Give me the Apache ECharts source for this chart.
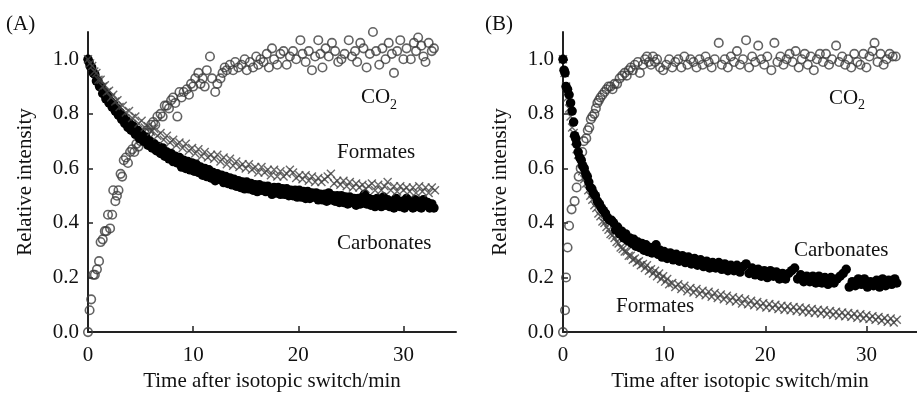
<!DOCTYPE html>
<html>
<head>
<meta charset="utf-8">
<script src="https://cdn.jsdelivr.net/npm/echarts@6/dist/echarts.min.js"></script>
<style>
  html, body { margin: 0; padding: 0; background: #fff; }
  #chart { width: 917px; height: 397px; }
</style>
</head>
<body>
<div id="chart"></div>
<script>
// ticks
var xTicks = [0, 10, 20, 30];
var yTicks = [0, 0.2, 0.4, 0.6, 0.8, 1.0];

// panel (A) — [time/min, relative intensity]
var co2A = [[0,0.0],[0.15,0.08],[0.3,0.12],[0.5,0.21],[0.65,0.21],[0.85,0.23],[1.05,0.26],[1.2,0.33],[1.4,0.34],[1.6,0.37],[1.75,0.37],[1.9,0.43],[2.1,0.38],[2.3,0.43],[2.4,0.52],[2.6,0.48],[2.75,0.5],[2.9,0.52],[3.1,0.58],[3.25,0.57],[3.4,0.63],[3.6,0.64],[3.8,0.62],[4.0,0.66],[4.2,0.67],[4.4,0.66],[4.6,0.69],[4.8,0.68],[5.0,0.70],[5.2,0.71],[5.4,0.73],[5.6,0.74],[5.8,0.73],[6.0,0.76],[6.2,0.77],[6.4,0.76],[6.6,0.79],[6.9,0.80],[7.1,0.79],[7.3,0.83],[7.5,0.83],[7.7,0.82],[7.9,0.85],[8.1,0.86],[8.3,0.84],[8.5,0.79],[8.7,0.88],[8.9,0.86],[9.1,0.88],[9.4,0.89],[9.6,0.87],[9.8,0.91],[10.0,0.90],[10.2,0.93],[10.5,0.95],[10.7,0.91],[10.9,0.93],[11.1,0.90],[11.3,0.96],[11.6,1.01],[11.8,0.93],[12.1,0.88],[12.3,0.91],[12.6,0.93],[12.8,0.95],[13.0,0.97],[13.2,0.96],[13.5,0.98],[13.8,0.96],[14.0,0.99],[14.3,0.97],[14.6,0.98],[14.9,1.0],[15.1,0.96],[15.4,0.99],[15.7,0.97],[16.0,1.01],[16.2,0.98],[16.4,1.0],[16.7,0.99],[17.0,1.02],[17.2,0.97],[17.5,1.04],[17.7,1.0],[18.0,0.98],[18.3,1.02],[18.6,1.03],[18.9,0.98],[19.2,1.01],[19.5,1.03],[19.8,1.0],[20.2,1.07],[20.4,1.02],[20.7,0.99],[21.0,1.03],[21.3,0.96],[21.6,1.01],[21.9,1.07],[22.1,1.02],[22.3,0.97],[22.6,1.04],[22.9,1.01],[23.2,1.06],[23.5,1.03],[23.8,0.99],[24.1,1.0],[24.4,1.02],[24.8,1.07],[25.1,1.01],[25.4,1.03],[25.6,0.99],[25.9,1.06],[26.2,1.04],[26.5,0.97],[26.8,1.02],[27.1,1.1],[27.4,1.03],[27.7,0.98],[28.0,1.04],[28.3,1.0],[28.6,1.06],[28.9,1.02],[29.1,0.95],[29.4,1.03],[29.7,1.07],[30.0,1.0],[30.3,1.04],[30.7,1.0],[31.0,1.06],[31.2,1.03],[31.4,1.08],[31.7,1.05],[31.9,1.01],[32.1,0.99],[32.4,1.06],[32.7,1.03],[32.9,1.04]];

var formatesA = [[0,1.0],[0.2,0.985],[0.4,0.975],[0.6,0.955],[0.8,0.95],[1.0,0.925],[1.2,0.925],[1.4,0.9],[1.6,0.905],[1.8,0.88],[2.0,0.885],[2.2,0.86],[2.4,0.87],[2.6,0.845],[2.8,0.85],[3.0,0.825],[3.3,0.83],[3.6,0.805],[3.9,0.81],[4.2,0.785],[4.5,0.79],[4.8,0.765],[5.1,0.775],[5.4,0.75],[5.7,0.755],[6.0,0.735],[6.3,0.745],[6.6,0.72],[6.9,0.73],[7.2,0.705],[7.5,0.72],[7.8,0.695],[8.1,0.705],[8.4,0.685],[8.7,0.695],[9.0,0.675],[9.3,0.69],[9.6,0.665],[9.9,0.675],[10.2,0.655],[10.5,0.67],[10.8,0.645],[11.1,0.66],[11.4,0.64],[11.7,0.65],[12.0,0.635],[12.3,0.65],[12.6,0.625],[12.9,0.64],[13.2,0.615],[13.5,0.635],[13.8,0.61],[14.1,0.625],[14.4,0.605],[14.7,0.615],[15.0,0.60],[15.3,0.615],[15.6,0.595],[15.9,0.605],[16.2,0.585],[16.5,0.605],[16.8,0.585],[17.1,0.595],[17.4,0.575],[17.7,0.595],[18.0,0.57],[18.3,0.59],[18.6,0.57],[18.9,0.58],[19.2,0.595],[19.5,0.585],[19.8,0.565],[20.1,0.575],[20.4,0.56],[20.7,0.575],[21.0,0.555],[21.3,0.57],[21.6,0.55],[21.9,0.565],[22.2,0.55],[22.5,0.56],[22.8,0.57],[23.1,0.58],[23.4,0.545],[23.7,0.555],[24.0,0.54],[24.3,0.555],[24.6,0.535],[24.9,0.55],[25.2,0.53],[25.5,0.545],[25.8,0.53],[26.1,0.54],[26.4,0.525],[26.7,0.535],[27.0,0.545],[27.3,0.52],[27.6,0.54],[27.9,0.52],[28.2,0.535],[28.5,0.55],[28.8,0.52],[29.1,0.535],[29.4,0.515],[29.7,0.535],[30.0,0.52],[30.3,0.53],[30.6,0.515],[30.9,0.53],[31.2,0.51],[31.5,0.535],[31.8,0.515],[32.1,0.53],[32.4,0.51],[32.7,0.53],[33.0,0.52]];

var carbonatesA = [[0,1.0],[0.1,0.99],[0.2,0.975],[0.35,0.97],[0.5,0.95],[0.65,0.945],[0.8,0.92],[0.95,0.92],[1.1,0.9],[1.25,0.9],[1.4,0.875],[1.55,0.88],[1.7,0.855],[1.85,0.865],[2.0,0.84],[2.15,0.845],[2.3,0.825],[2.45,0.835],[2.6,0.81],[2.75,0.82],[2.9,0.795],[3.05,0.805],[3.2,0.78],[3.35,0.79],[3.5,0.765],[3.65,0.775],[3.8,0.75],[3.95,0.765],[4.1,0.74],[4.3,0.755],[4.5,0.725],[4.7,0.74],[4.9,0.71],[5.1,0.725],[5.3,0.70],[5.5,0.715],[5.7,0.685],[5.9,0.70],[6.1,0.675],[6.3,0.69],[6.5,0.665],[6.7,0.68],[6.9,0.655],[7.1,0.675],[7.3,0.645],[7.5,0.66],[7.7,0.635],[7.9,0.655],[8.1,0.625],[8.3,0.645],[8.5,0.62],[8.7,0.64],[8.9,0.605],[9.1,0.63],[9.3,0.60],[9.5,0.625],[9.7,0.595],[9.9,0.62],[10.1,0.59],[10.3,0.615],[10.5,0.585],[10.7,0.605],[10.9,0.575],[11.1,0.60],[11.3,0.57],[11.5,0.595],[11.7,0.565],[11.9,0.585],[12.1,0.555],[12.3,0.58],[12.5,0.56],[12.7,0.575],[12.9,0.548],[13.1,0.57],[13.3,0.545],[13.5,0.565],[13.7,0.54],[13.9,0.56],[14.1,0.535],[14.3,0.555],[14.5,0.53],[14.7,0.55],[14.9,0.525],[15.1,0.55],[15.3,0.525],[15.5,0.545],[15.7,0.52],[15.9,0.54],[16.1,0.515],[16.3,0.54],[16.5,0.52],[16.7,0.535],[16.9,0.515],[17.1,0.535],[17.5,0.505],[17.7,0.53],[17.9,0.51],[18.1,0.53],[18.3,0.505],[18.5,0.525],[18.7,0.505],[18.9,0.525],[19.1,0.50],[19.3,0.52],[19.5,0.50],[19.7,0.52],[19.9,0.495],[20.1,0.52],[20.3,0.495],[20.5,0.515],[20.7,0.49],[20.9,0.515],[21.1,0.49],[21.3,0.51],[21.5,0.495],[21.7,0.51],[21.9,0.485],[22.1,0.505],[22.3,0.485],[22.5,0.505],[22.7,0.48],[22.9,0.51],[23.1,0.485],[23.3,0.50],[23.5,0.48],[23.7,0.50],[23.9,0.475],[24.1,0.50],[24.3,0.475],[24.5,0.495],[24.7,0.47],[24.9,0.495],[25.1,0.475],[25.3,0.49],[25.5,0.465],[25.7,0.49],[25.9,0.47],[26.1,0.495],[26.3,0.505],[26.5,0.47],[26.7,0.49],[26.9,0.465],[27.1,0.485],[27.3,0.46],[27.5,0.49],[27.7,0.47],[27.9,0.46],[28.1,0.495],[28.3,0.465],[28.5,0.485],[28.7,0.46],[28.9,0.48],[29.1,0.455],[29.3,0.49],[29.5,0.47],[29.7,0.46],[29.9,0.48],[30.1,0.455],[30.3,0.49],[30.5,0.465],[30.7,0.475],[30.9,0.455],[31.1,0.485],[31.3,0.46],[31.5,0.48],[31.7,0.455],[31.9,0.485],[32.1,0.465],[32.3,0.475],[32.5,0.455],[32.7,0.47],[32.9,0.455]];

// panel (B)
var co2B = [[0,0.0],[0.2,0.08],[0.3,0.2],[0.45,0.31],[0.6,0.39],[0.85,0.45],[1.15,0.48],[1.35,0.53],[1.55,0.57],[1.75,0.60],[1.9,0.66],[2.05,0.70],[2.3,0.71],[2.45,0.74],[2.6,0.75],[2.75,0.78],[2.9,0.79],[3.1,0.80],[3.25,0.82],[3.4,0.84],[3.55,0.85],[3.7,0.86],[3.9,0.87],[4.1,0.88],[4.3,0.89],[4.5,0.90],[4.7,0.90],[4.9,0.89],[5.1,0.91],[5.35,0.91],[5.6,0.93],[5.85,0.94],[6.1,0.95],[6.3,0.94],[6.5,0.96],[6.7,0.97],[6.9,0.96],[7.1,0.98],[7.4,0.99],[7.6,0.95],[7.9,0.98],[8.1,1.0],[8.3,1.01],[8.5,0.99],[8.7,0.98],[8.9,1.01],[9.1,0.99],[9.3,1.0],[9.6,0.97],[9.9,0.96],[10.2,0.98],[10.5,1.0],[10.8,0.97],[11.1,0.99],[11.4,1.0],[11.7,0.97],[12.0,1.01],[12.3,0.98],[12.6,1.0],[12.9,0.99],[13.2,0.97],[13.5,1.0],[13.8,0.98],[14.1,1.01],[14.4,0.99],[14.7,0.97],[15.0,1.0],[15.4,1.06],[15.7,0.98],[16.0,1.0],[16.3,0.97],[16.6,1.01],[16.9,0.99],[17.2,1.03],[17.5,0.98],[17.8,1.0],[18.1,1.07],[18.4,0.97],[18.7,1.01],[19.0,0.99],[19.3,1.05],[19.6,1.0],[19.9,0.98],[20.2,1.01],[20.6,0.96],[20.9,1.06],[21.2,0.99],[21.5,1.01],[21.8,0.98],[22.1,1.0],[22.4,1.02],[22.7,0.99],[23.0,1.03],[23.3,0.97],[23.6,1.0],[23.9,1.02],[24.2,0.98],[24.5,1.01],[24.8,0.96],[25.1,1.0],[25.4,1.02],[25.7,0.99],[26.0,1.02],[26.3,0.98],[26.6,1.0],[27.0,1.05],[27.3,0.99],[27.6,1.01],[27.9,0.98],[28.2,1.0],[28.5,0.97],[28.8,1.02],[29.1,0.99],[29.4,0.98],[29.7,1.02],[30.0,0.97],[30.3,1.01],[30.6,1.03],[30.8,1.06],[31.1,0.99],[31.4,1.02],[31.7,0.98],[32.0,1.0],[32.3,1.02],[32.6,1.01],[32.9,1.01]];

var formatesB = [[0,1.0],[0.15,0.95],[0.3,0.9],[0.45,0.86],[0.6,0.82],[0.75,0.79],[0.9,0.75],[1.05,0.73],[1.2,0.70],[1.35,0.67],[1.5,0.65],[1.7,0.62],[1.9,0.59],[2.1,0.56],[2.3,0.545],[2.5,0.52],[2.7,0.50],[2.9,0.485],[3.1,0.465],[3.3,0.455],[3.5,0.435],[3.7,0.425],[3.9,0.405],[4.1,0.40],[4.3,0.385],[4.5,0.375],[4.7,0.36],[4.9,0.355],[5.1,0.345],[5.3,0.33],[5.5,0.325],[5.7,0.31],[5.9,0.305],[6.1,0.295],[6.3,0.295],[6.5,0.28],[6.7,0.28],[6.9,0.265],[7.1,0.27],[7.3,0.255],[7.5,0.26],[7.7,0.245],[7.9,0.25],[8.1,0.235],[8.3,0.245],[8.5,0.225],[8.7,0.23],[8.9,0.215],[9.1,0.225],[9.3,0.205],[9.5,0.215],[9.7,0.195],[9.9,0.205],[10.1,0.185],[10.3,0.195],[10.5,0.175],[10.8,0.18],[11.1,0.165],[11.4,0.175],[11.7,0.158],[12.0,0.17],[12.3,0.15],[12.6,0.162],[12.9,0.145],[13.2,0.158],[13.5,0.14],[13.8,0.152],[14.1,0.135],[14.4,0.148],[14.7,0.13],[15.0,0.143],[15.3,0.125],[15.6,0.138],[15.9,0.12],[16.2,0.133],[16.5,0.115],[16.8,0.128],[17.1,0.112],[17.4,0.124],[17.7,0.105],[18.0,0.12],[18.3,0.102],[18.6,0.115],[18.9,0.098],[19.2,0.11],[19.5,0.094],[19.8,0.106],[20.1,0.09],[20.4,0.103],[20.7,0.088],[21.0,0.1],[21.3,0.085],[21.6,0.097],[21.9,0.082],[22.2,0.095],[22.5,0.08],[22.8,0.092],[23.1,0.077],[23.4,0.09],[23.7,0.075],[24.0,0.087],[24.3,0.072],[24.6,0.085],[24.9,0.07],[25.2,0.082],[25.5,0.068],[25.8,0.08],[26.1,0.065],[26.4,0.077],[26.7,0.063],[27.0,0.075],[27.3,0.06],[27.6,0.072],[27.9,0.058],[28.2,0.07],[28.5,0.056],[28.8,0.067],[29.1,0.053],[29.4,0.065],[29.7,0.05],[30.0,0.062],[30.3,0.048],[30.6,0.058],[30.9,0.045],[31.2,0.055],[31.5,0.042],[31.8,0.052],[32.1,0.038],[32.4,0.05],[32.7,0.035],[33.0,0.045]];

var carbonatesB = [[0,1.0],[0.1,0.96],[0.2,0.95],[0.3,0.9],[0.45,0.89],[0.6,0.87],[0.75,0.84],[0.9,0.81],[1.05,0.77],[1.15,0.72],[1.25,0.71],[1.35,0.69],[1.5,0.66],[1.65,0.64],[1.8,0.63],[1.95,0.61],[2.1,0.60],[2.25,0.58],[2.4,0.57],[2.55,0.55],[2.7,0.53],[2.85,0.525],[3.0,0.51],[3.2,0.50],[3.4,0.48],[3.6,0.47],[3.8,0.455],[4.0,0.445],[4.2,0.435],[4.4,0.42],[4.6,0.41],[4.8,0.41],[5.0,0.40],[5.2,0.375],[5.4,0.385],[5.6,0.36],[5.8,0.37],[6.0,0.345],[6.2,0.36],[6.4,0.335],[6.6,0.345],[6.8,0.325],[7.0,0.34],[7.2,0.315],[7.4,0.33],[7.6,0.31],[7.8,0.325],[8.0,0.30],[8.2,0.32],[8.4,0.295],[8.6,0.31],[8.8,0.29],[9.0,0.305],[9.2,0.32],[9.4,0.285],[9.6,0.30],[9.8,0.275],[10.0,0.295],[10.3,0.27],[10.6,0.29],[10.9,0.265],[11.2,0.285],[11.5,0.26],[11.8,0.28],[12.1,0.255],[12.4,0.275],[12.7,0.25],[13.0,0.27],[13.3,0.245],[13.6,0.265],[13.9,0.24],[14.2,0.26],[14.5,0.235],[14.8,0.255],[15.1,0.235],[15.4,0.255],[15.7,0.23],[16.0,0.25],[16.3,0.225],[16.6,0.245],[16.9,0.225],[17.2,0.245],[17.5,0.22],[17.8,0.24],[18.1,0.25],[18.4,0.215],[18.7,0.235],[19.0,0.21],[19.3,0.23],[19.6,0.205],[19.9,0.225],[20.2,0.20],[20.5,0.225],[20.8,0.205],[21.1,0.22],[21.4,0.195],[21.7,0.215],[22.0,0.195],[22.3,0.215],[22.6,0.225],[22.9,0.235],[23.2,0.195],[23.5,0.21],[23.8,0.185],[24.1,0.205],[24.4,0.185],[24.7,0.205],[25.0,0.18],[25.3,0.205],[25.6,0.18],[25.9,0.20],[26.2,0.175],[26.5,0.20],[26.8,0.18],[27.1,0.195],[27.4,0.205],[27.7,0.215],[28.0,0.23],[28.3,0.165],[28.6,0.185],[28.9,0.17],[29.2,0.195],[29.5,0.175],[29.8,0.195],[30.1,0.165],[30.4,0.185],[30.7,0.17],[31.0,0.19],[31.3,0.165],[31.6,0.195],[31.9,0.17],[32.2,0.19],[32.5,0.175],[32.8,0.195],[33.0,0.18]];

var FONT = 'Liberation Serif';
var TEXT = '#111';
var FS = 21;

function makeX(gridIndex) {
    return {
        type: 'value',
        gridIndex: gridIndex,
        min: 0,
        max: 35,
        interval: 10,
        name: 'Time after isotopic switch/min',
        nameLocation: 'middle',
        nameGap: 38,
        nameTextStyle: { fontFamily: FONT, fontSize: FS, color: TEXT },
        axisLine: { onZero: false, lineStyle: { color: '#222', width: 2 } },
        axisTick: { inside: true, length: 6, customValues: xTicks, lineStyle: { color: '#222', width: 1.5 } },
        axisLabel: { customValues: xTicks, margin: 13, fontFamily: FONT, fontSize: FS, color: TEXT },
        splitLine: { show: false }
    };
}

function makeY(gridIndex) {
    return {
        type: 'value',
        gridIndex: gridIndex,
        min: 0,
        max: 1.1,
        interval: 0.2,
        name: 'Relative intensity',
        nameLocation: 'middle',
        nameGap: 52,
        nameTextStyle: { fontFamily: FONT, fontSize: FS, color: TEXT },
        axisLine: { onZero: false, lineStyle: { color: '#222', width: 2 } },
        axisTick: { inside: true, length: 5, customValues: yTicks, lineStyle: { color: '#222', width: 1.5 } },
        axisLabel: {
            customValues: yTicks, margin: 9, fontFamily: FONT, fontSize: FS, color: TEXT,
            formatter: function (v) { return v.toFixed(1); }
        },
        splitLine: { show: false }
    };
}

function openCircles(data, idx) {
    return {
        type: 'scatter', xAxisIndex: idx, yAxisIndex: idx, data: data, clip: false,
        symbol: 'circle', symbolSize: 8.5,
        itemStyle: { color: 'rgba(0,0,0,0)', borderColor: '#3c3c3c', borderWidth: 1.6 }
    };
}
function crosses(data, idx) {
    return {
        type: 'scatter', xAxisIndex: idx, yAxisIndex: idx, data: data, clip: false,
        symbol: 'path://M0,0L10,10M10,0L0,10', symbolSize: 8,
        itemStyle: { color: 'none', borderColor: '#444', borderWidth: 1.4 }
    };
}
function dots(data, idx) {
    return {
        type: 'scatter', xAxisIndex: idx, yAxisIndex: idx, data: data, clip: false,
        symbol: 'circle', symbolSize: 9.5,
        itemStyle: { color: '#000', opacity: 1 }
    };
}

function label(text, x, y, size) {
    return {
        type: 'text', x: x, y: y,
        style: { text: text, fontFamily: FONT, fontSize: size || FS, fill: TEXT, verticalAlign: 'middle' }
    };
}

var chart = echarts.init(document.getElementById('chart'));
chart.setOption({
    backgroundColor: '#fff',
    animation: false,
    grid: [
        { left: 88, top: 32, width: 368, bottom: 57 },
        { left: 563, top: 32, right: -14, bottom: 57 }
    ],
    xAxis: [makeX(0), makeX(1)],
    yAxis: [makeY(0), makeY(1)],
    series: [
        openCircles(co2A, 0),
        dots(carbonatesA, 0),
        crosses(formatesA, 0),
        openCircles(co2B, 1),
        crosses(formatesB, 1),
        dots(carbonatesB, 1)
    ],
    graphic: [
        label('(A)', 6, 24),
        label('CO', 361, 97),
        label('2', 390, 105, 14),
        label('Formates', 337, 152),
        label('Carbonates', 337, 243),
        label('(B)', 485, 24),
        label('CO', 829, 98),
        label('2', 858, 105, 14),
        label('Carbonates', 794, 250),
        label('Formates', 616, 306)
    ]
});
window.addEventListener('resize', function () { chart.resize(); });
</script>
</body>
</html>
